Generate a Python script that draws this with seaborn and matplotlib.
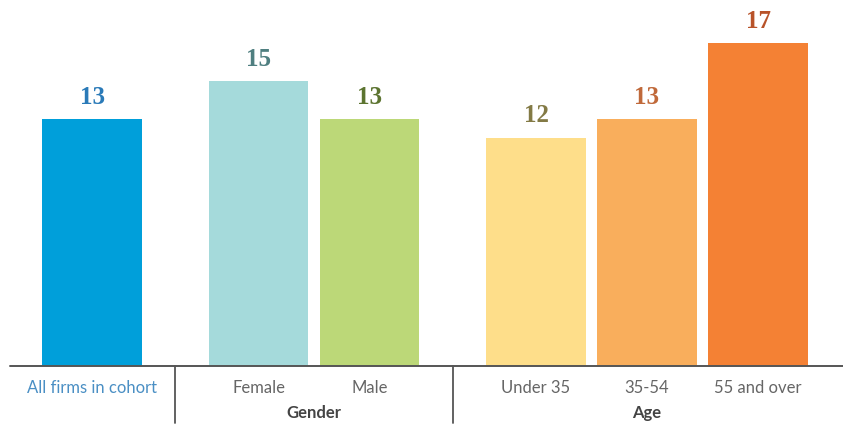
import numpy as np
import pandas as pd
import matplotlib
matplotlib.use('Agg')
import matplotlib.pyplot as plt
import seaborn as sns
from matplotlib.lines import Line2D

categories = ['All firms in cohort', 'Female', 'Male', 'Under 35', '35-54', '55 and over']
values = [13, 15, 13, 12, 13, 17]
groups = ['', 'Gender', 'Gender', 'Age', 'Age', 'Age']
bar_colors = ['#009fda', '#a5dadb', '#bcd878', '#fede8a', '#f9ae5c', '#f48134']
value_colors = ['#2a7ab8', '#4f7f80', '#5c7430', '#837a45', '#c0693a', '#b8532a']
tick_colors = ['#4a8fc4', '#666666', '#666666', '#666666', '#666666', '#666666']

# slot positions: a half-slot gap between groups
pos = []
p = 0.0
for i, g in enumerate(groups):
    if i > 0:
        p += 1.0 if g == groups[i - 1] else 1.5
    pos.append(p)

df = pd.DataFrame({'pos': pos, 'label': categories, 'value': values})

sns.set_style('white')
plt.rcParams['font.family'] = ['Lato', 'DejaVu Sans']

W, H = 843, 426
fig = plt.figure(figsize=(W / 100, H / 100), dpi=100)
base_px = 366
px_per_unit = 19.0
pitch = 111.0
x0_px = 92.0
ax = fig.add_axes([0, (H - base_px) / H, 1, base_px / H])

sns.barplot(data=df, x='pos', y='value', hue='label', palette=bar_colors,
            hue_order=categories, native_scale=True, width=0.9, dodge=False,
            legend=False, saturation=1, linewidth=0, ax=ax)

ax.set_xlim(-x0_px / pitch, (W - x0_px) / pitch)
ax.set_ylim(0, base_px / px_per_unit)
ax.axis('off')

for x, v, c in zip(pos, values, value_colors):
    ax.text(x, v + 22 / px_per_unit, str(v), ha='center', va='center',
            fontsize=18, fontweight='bold', color=c, family='Liberation Serif')

for x, lab, c in zip(pos, categories, tick_colors):
    ax.text(x, -22 / px_per_unit, lab, ha='center', va='center',
            fontsize=12, color=c)

# group labels and separators
for g in ['Gender', 'Age']:
    xs = [x for x, gg in zip(pos, groups) if gg == g]
    ax.text(np.mean(xs), -47 / px_per_unit, g, ha='center', va='center',
            fontsize=12, fontweight='bold', color='#444444')
for i in range(1, len(groups)):
    if groups[i] != groups[i - 1]:
        xm = (pos[i - 1] + pos[i]) / 2
        ax.plot([xm, xm], [0, -57 / px_per_unit], color='#555555', lw=1.3,
                clip_on=False)

fig.add_artist(Line2D([10 / W, 1], [(H - base_px) / H] * 2, color='#555555',
                      lw=1.4, transform=fig.transFigure))

fig.savefig('out.png', dpi=100, facecolor='white')
